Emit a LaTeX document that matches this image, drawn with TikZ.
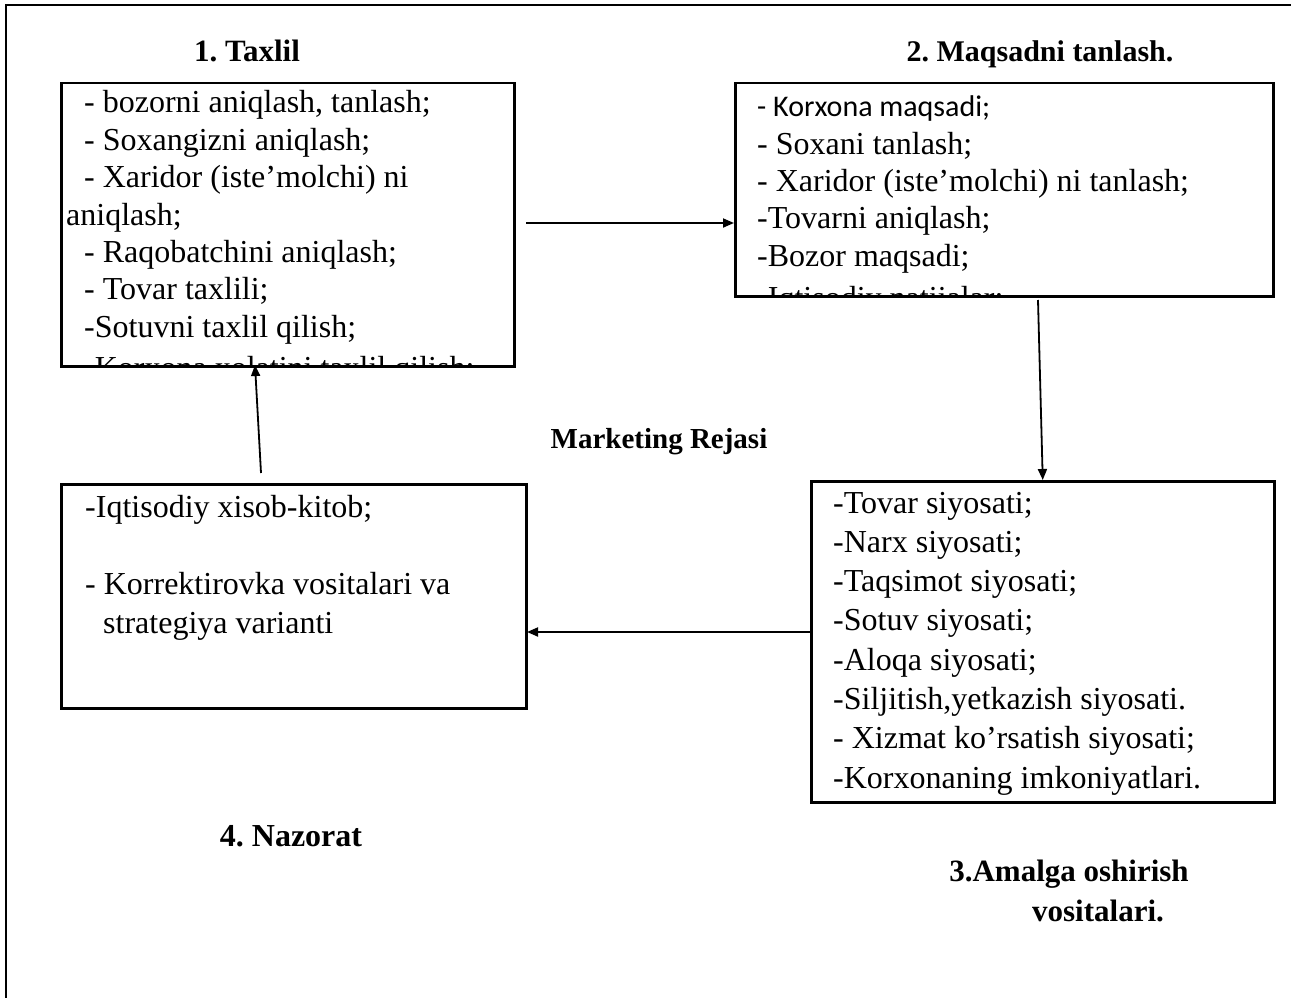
\documentclass[tikz,border=0pt]{standalone}
\usepackage{fontspec}
\setmainfont{Liberation Serif}
\newfontfamily\sanslike{Carlito}
\usetikzlibrary{arrows.meta}
\frenchspacing

\begin{document}
\begin{tikzpicture}[x=1pt,y=-1pt,
  panel/.style={draw,line width=2.5pt,rectangle,anchor=north west,inner sep=0pt},
  body/.style={anchor=base west,inner sep=0pt},
  heading/.style={anchor=base,inner sep=0pt,font=\fontsize{31}{36}\selectfont\bfseries},
  link/.style={line width=1.8pt,-{Triangle[length=11pt,width=9pt]}}]

\useasboundingbox (0,0) rectangle (1291,998);

% open outer frame (top and left edges)
\draw[line width=2pt] (6,998) -- (6,5) -- (1291,5);

% panels
\node[panel,minimum width=453pt,minimum height=283pt] (analysis) at (60,82) {};
\node[panel,minimum width=538pt,minimum height=213pt] (goals) at (734,82) {};
\node[panel,minimum width=463pt,minimum height=321pt] (tools) at (810,480) {};
\node[panel,minimum width=465pt,minimum height=224pt] (control) at (60,483) {};

% headings
\node[heading] (h1) at (247,62) {1. Taxlil};
\node[heading,font=\fontsize{30}{36}\selectfont\bfseries] (h2) at (1040,62) {2. Maqsadni tanlash.};
\node[heading,font=\fontsize{29}{34}\selectfont\bfseries] (plan) at (659,448) {Marketing Rejasi};
\node[heading,font=\fontsize{32}{36}\selectfont\bfseries] (h4) at (291,846) {4. Nazorat};
\node[heading] (h3a) at (1069,881) {3.Amalga oshirish};
\node[heading] (h3b) at (1098,921) {vositalari.};

% panel contents; the last line of the two upper panels runs past the frame
\begin{scope}
  \clip ([shift={(1.25pt,-1.25pt)}]analysis.north west) rectangle ([shift={(-1.25pt,1.25pt)}]analysis.south east);
  \node[body,font=\fontsize{32}{37.4}\selectfont] (analysisText) at (66,113) {\vtop{%
    \hbox{\hskip18pt - bozorni aniqlash, tanlash;}
    \hbox{\hskip18pt - Soxangizni aniqlash;}
    \hbox{\hskip18pt - Xaridor (iste’molchi) ni}
    \hbox{aniqlash;}
    \hbox{\hskip18pt - Raqobatchini aniqlash;}
    \hbox{\hskip18pt - Tovar taxlili;}
    \hbox{\hskip18pt -Sotuvni taxlil qilish;}
    \vskip4.2pt
    \hbox{\hskip18pt -Korxona xolatini taxlil qilish;}}};
\end{scope}

\begin{scope}
  \clip ([shift={(1.25pt,-1.25pt)}]goals.north west) rectangle ([shift={(-1.25pt,1.25pt)}]goals.south east);
  \node[body,font=\fontsize{32}{37.3}\selectfont] (goalsText) at (757,117) {\vtop{%
    \hbox{\sanslike\fontsize{30}{37.3}\selectfont - Korxona maqsadi;}
    \hbox{- Soxani tanlash;}
    \hbox{- Xaridor (iste’molchi) ni tanlash;}
    \hbox{-Tovarni aniqlash;}
    \hbox{-Bozor maqsadi;}
    \vskip5.5pt
    \hbox{-Iqtisodiy natijalar;}}};
\end{scope}

\node[body,font=\fontsize{32}{39.3}\selectfont] (toolsText) at (833,513) {\vtop{%
  \hbox{-Tovar siyosati;}
  \hbox{-Narx siyosati;}
  \hbox{-Taqsimot siyosati;}
  \hbox{-Sotuv siyosati;}
  \hbox{-Aloqa siyosati;}
  \hbox{-Siljitish,yetkazish siyosati.}
  \hbox{- Xizmat ko’rsatish siyosati;}
  \hbox{-Korxonaning imkoniyatlari.}}};

\node[body,font=\fontsize{32}{38.7}\selectfont] (controlText) at (85,517) {\vtop{%
  \hbox{-Iqtisodiy xisob-kitob;}
  \hbox{}
  \hbox{- Korrektirovka vositalari va}
  \hbox{\hskip18pt strategiya varianti}}};

% connector end points
\coordinate (fromAnalysis) at (526,223);
\coordinate (fromGoals) at (1038,300);
\coordinate (intoControl) at (527,632);
\coordinate (fromControl) at (261,473);
\coordinate (intoAnalysis) at (255,365);

% connectors
\draw[link] (fromAnalysis) -- (fromAnalysis -| goals.west);
\draw[link] (fromGoals) -- (tools.north);
\draw[link] (intoControl -| tools.west) -- (intoControl);
\draw[link] (fromControl) -- (intoAnalysis);

\end{tikzpicture}
\end{document}
